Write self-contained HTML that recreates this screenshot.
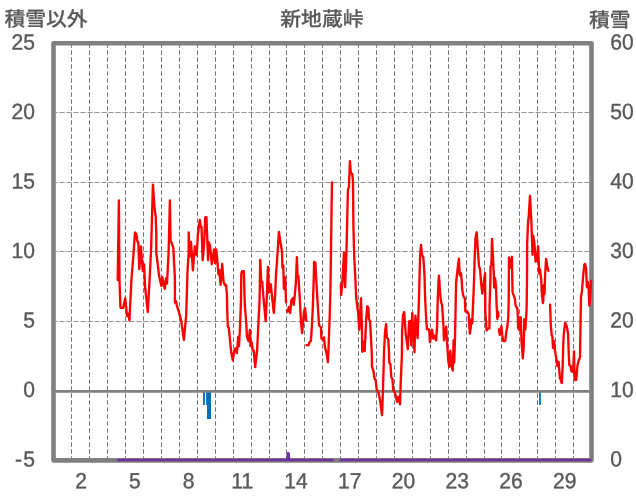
<!DOCTYPE html>
<html lang="ja"><head><meta charset="utf-8"><title>新地蔵峠</title>
<style>html,body{margin:0;padding:0;background:#fff}body{width:636px;height:501px;overflow:hidden}svg{display:block}text{font-family:"Liberation Sans","Noto Sans CJK JP",sans-serif;fill:#595959}.j{text-rendering:geometricPrecision;font-size:20px;font-weight:500;stroke:#595959;stroke-width:.2px}.n{text-rendering:geometricPrecision;font-size:21.8px;stroke:#595959;stroke-width:.4px}</style></head><body>
<svg width="636" height="501" viewBox="0 0 636 501">
<rect width="636" height="501" fill="#fff"/>
<path d="M71.5 43.3V460.4M89.5 43.3V460.4M107.5 43.3V460.4M125.5 43.3V460.4M143.5 43.3V460.4M161.5 43.3V460.4M179.5 43.3V460.4M197.5 43.3V460.4M215.5 43.3V460.4M233.5 43.3V460.4M251.5 43.3V460.4M269.5 43.3V460.4M286.5 43.3V460.4M304.5 43.3V460.4M322.5 43.3V460.4M340.5 43.3V460.4M358.5 43.3V460.4M376.5 43.3V460.4M394.5 43.3V460.4M412.5 43.3V460.4M430.5 43.3V460.4M448.5 43.3V460.4M466.5 43.3V460.4M484.5 43.3V460.4M501.5 43.3V460.4M519.5 43.3V460.4M537.5 43.3V460.4M555.5 43.3V460.4M573.5 43.3V460.4" fill="none" stroke="#727272" stroke-width="1" stroke-dasharray="4.5 2.5"/>
<path d="M52.45 112.5H591.5M52.45 182.5H591.5M52.45 251.5H591.5M52.45 321.5H591.5" fill="none" stroke="#787878" stroke-width="0.8" stroke-dasharray="5.2 1.8"/>
<path d="M203 391h1.9v14h-1.9zM206.1 391h4.9v27.9h-4v-13.9h-.9zM539.1 391h1.8v14h-1.8z" fill="#0070c0"/>
<path d="M53.5 391.4H591.5" stroke="#808080" stroke-width="2.8" fill="none"/>
<rect x="53.5" y="43.3" width="538.0" height="417.05" fill="none" stroke="#808080" stroke-width="4.6" stroke-linejoin="round"/>
<path d="M116.4 461.2L118.2 458.8H286.2L286.5 453.6Q288.2 449.8 289.9 453.6L290.3 458.8H332.9L334.6 461.2zM338.6 461.2L341 458.8H591.6V461.2z" fill="#7030a0"/>
<path d="M117.7 280.0L118.9 200.5L119.5 281.5L120.5 307.8L123.3 307.8L125.2 298.2L127.1 316.0L128.3 313.7L129.4 320.4L131.5 279.0L133.6 252.6L135.0 232.5L136.3 234.0L137.4 241.6L138.3 242.2L139.3 269.2L140.9 246.4L142.8 271.1L144.1 264.3L145.1 287.2L147.8 312.0L149.7 277.7L151.2 246.3L152.9 184.6L154.4 206.3L155.7 216.4L156.3 232.8L156.3 252.6L159.2 276.5L161.4 286.1L162.3 277.1L164.8 288.7L166.1 278.1L167.0 283.6L168.6 252.6L169.9 200.5L170.6 240.3L172.4 245.3L173.3 247.6L174.9 277.7L174.9 302.6L176.2 301.6L176.8 305.7L178.7 311.4L181.2 320.8L183.9 339.9L186.2 315.2L187.5 271.4L188.7 252.6L188.7 232.5L189.5 257.2L191.0 241.9L192.9 270.4L194.8 246.3L196.7 255.3L197.9 234.0L199.8 219.9L200.8 227.0L201.5 226.7L202.7 260.3L204.2 242.8L205.2 217.4L206.4 217.0L207.4 241.5L208.1 260.3L209.0 242.5L210.2 246.8L211.8 264.1L214.1 249.4L215.1 263.2L216.2 249.4L217.4 261.4L218.4 274.2L219.3 270.2L220.6 284.9L222.2 264.0L223.5 281.5L225.0 285.2L226.0 285.0L226.9 294.1L227.3 312.6L227.8 326.4L228.8 327.9L231.3 352.8L232.8 360.2L234.4 350.3L235.7 348.2L236.9 353.1L238.2 336.9L239.0 346.1L240.1 325.2L241.0 300.0L241.3 273.9L242.2 271.2L243.9 271.2L244.5 295.3L244.9 306.3L246.0 318.9L247.0 337.1L248.5 341.1L249.9 330.0L250.5 346.1L251.8 342.5L252.7 350.3L253.7 350.3L254.6 360.4L255.2 367.1L257.1 350.3L258.3 325.2L259.6 300.0L260.2 259.9L261.2 280.9L262.4 282.1L262.4 285.1L263.8 301.4L265.7 321.2L266.9 295.2L267.9 266.9L268.8 292.6L269.8 291.4L270.7 284.2L271.9 295.2L273.8 313.0L275.1 295.2L276.1 272.5L277.0 261.5L278.9 232.0L280.1 240.1L282.0 251.4L282.4 267.8L283.3 265.3L283.9 288.9L285.2 277.3L286.0 302.4" fill="none" stroke="#ff0000" stroke-width="2.35" stroke-linejoin="round" stroke-linecap="round"/>
<path d="M286.9 310.5L287.7 311.7L288.9 306.9L290.2 313.0L291.4 300.2L293.0 298.1L293.7 304.8L294.6 297.0L295.9 282.6L296.9 257.1L297.5 275.4L298.4 276.0L299.6 295.2L300.9 320.3L302.1 333.2L304.0 311.5L305.0 308.1L306.3 320.7" fill="none" stroke="#ff0000" stroke-width="2.35" stroke-linejoin="round" stroke-linecap="round"/>
<path d="M306.5 345.2L308.4 345.4L309.7 342.0L310.9 340.8L311.8 327.6L312.8 307.7L313.8 276.3L314.1 261.9L315.4 262.5L316.4 282.6L317.9 307.7L319.1 325.4L321.0 327.6L321.4 338.3L322.9 339.8L324.1 337.4L324.8 346.4L326.7 354.0L327.9 362.1L328.5 350.0L329.8 313.0L330.4 290.0L331.0 250.0L331.7 200.0L332.0 182.4" fill="none" stroke="#ff0000" stroke-width="2.35" stroke-linejoin="round" stroke-linecap="round"/>
<path d="M340.8 284.6L341.2 294.9L342.4 281.4L344.0 252.6L345.1 287.3L346.1 262.6L346.8 237.7L347.6 202.8L348.0 189.2L348.9 187.7L349.9 161.1L350.8 172.6L352.2 173.9L353.0 181.4L353.4 225.2L354.2 256.3L355.2 275.2L356.2 297.8L358.1 312.6L359.3 329.8L361.0 298.2L361.9 325.2L362.2 351.8L363.5 341.9L364.7 351.2L366.2 318.9L367.3 306.1L368.4 307.6L368.9 318.9L370.0 320.8L371.0 337.7L371.9 356.6L371.9 366.3L373.6 371.4L374.4 378.3L375.7 380.2L376.6 389.0L378.8 394.0L380.3 401.5L382.0 415.2L382.9 392.7L383.6 367.6L384.1 350.3L385.1 331.4L386.1 324.1L386.8 337.1L388.3 339.6L388.9 350.3L389.3 362.6L390.4 363.8L391.4 377.6L392.4 378.9L393.3 390.2L394.9 392.7L396.2 397.8L397.1 402.1L398.3 396.9L400.0 404.3L400.8 380.2L401.9 355.0L402.1 331.4L403.0 315.1L404.2 312.0L405.7 333.8L407.8 349.2L409.1 321.3L410.1 320.9L411.3 345.4L412.2 313.1L414.5 352.3L415.4 315.6L417.6 338.2L418.9 300.2L419.6 275.0L420.1 256.4L421.0 244.9L422.0 255.2L423.3 257.1L424.5 275.3L425.2 300.2L426.4 322.8L427.0 329.4L429.2 329.4L429.9 342.2L432.1 329.8L433.3 338.5L434.6 335.5L436.1 340.4L437.1 326.3L437.7 300.2L438.5 281.3L439.0 275.7L440.0 291.4L440.9 301.4L442.1 305.2L443.4 325.3L444.0 340.4L446.2 326.7L447.2 345.2L448.4 361.5L449.3 366.8L450.3 350.6L451.6 366.5L452.8 370.5L453.6 340.1L454.2 362.8L455.0 338.9L455.5 312.7L456.1 282.6L456.9 275.3L457.9 266.5L458.9 258.7L459.8 275.3L461.0 273.2L461.6 279.1L462.3 290.1L463.5 296.4L464.8 298.3L465.4 311.5L467.3 311.5L468.6 314.0L469.2 322.8L469.8 333.7L470.7 327.8L471.4 319.0L472.2 323.4L473.0 306.4L474.0 281.3L474.5 262.7L475.5 237.6L476.7 232.3L477.8 248.9L479.0 266.5L480.0 269.0L481.3 285.0L482.3 293.7L483.6 284.1L485.1 273.2L485.3 311.4L486.6 330.4L488.5 328.5L489.4 328.5L489.6 305.2L490.4 280.0L490.5 266.5L491.4 265.2L492.0 238.9L492.9 255.2L493.9 276.5L494.1 287.5L495.1 278.2L496.0 286.6L496.6 305.2L497.3 319.0L498.1 311.7L498.5 316.3" fill="none" stroke="#ff0000" stroke-width="2.35" stroke-linejoin="round" stroke-linecap="round"/>
<path d="M498.9 329.5L499.8 334.8L501.4 326.1L502.3 335.2L503.2 341.1L505.2 341.1L506.4 331.4L507.3 327.0L508.3 316.3L508.7 300.0L509.0 257.5L510.5 267.5L512.0 256.8L512.3 280.0L512.6 292.6L513.6 295.1L514.9 298.9L515.5 305.2L517.4 308.9L517.9 317.7L518.1 327.6L519.0 329.7L520.8 317.3L521.5 341.4L522.8 358.4L523.7 347.7L524.3 319.2L525.3 329.7L526.2 317.6L526.7 305.2L527.0 280.3L527.2 242.6L528.1 221.5L528.7 217.1L530.0 195.8L531.2 217.7L531.9 236.3L532.5 254.8L533.1 235.4L534.4 242.6L535.6 261.7L536.9 260.2L538.1 246.1L539.2 273.6L540.0 269.4L541.3 280.3L541.7 291.5L542.9 303.1L543.3 300.3L543.9 285.2L544.5 294.0L545.1 275.2L546.1 258.9L547.3 266.4L548.3 270.8" fill="none" stroke="#ff0000" stroke-width="2.35" stroke-linejoin="round" stroke-linecap="round"/>
<path d="M550.1 304.7L550.8 325.2L551.7 335.2L552.4 336.5L553.0 348.0L554.2 341.3L554.9 350.3L556.8 361.4L557.4 366.0L558.6 361.8L559.9 377.7L561.8 383.0L562.7 365.2L563.2 346.0L563.6 337.7L564.3 328.9L565.2 323.0L566.8 326.4L568.1 334.0L568.7 352.6L569.3 365.2L570.6 365.8L571.2 370.8L572.5 371.7L573.4 365.2L574.0 351.5L574.7 379.9L576.2 380.1L577.5 365.2L578.8 360.1L580.0 357.6L580.3 337.7L580.7 312.6L581.0 297.0L581.9 291.5L583.2 275.2L584.4 264.5L585.1 264.0L586.1 268.9L586.9 287.3L587.8 281.9L588.6 287.7L589.3 305.6L590.3 294.0L591.1 280.6" fill="none" stroke="#ff0000" stroke-width="2.35" stroke-linejoin="round" stroke-linecap="round"/>
<g class="j">
<text transform="translate(4.4 26.1) scale(1.04 1)">積雪以外</text>
<text transform="translate(321.9 26.1) scale(1.04 1)" text-anchor="middle">新地蔵峠</text>
<text transform="translate(630.5 27.1) scale(1.04 1)" text-anchor="end">積雪</text>
</g><g class="n">
<text transform="translate(34.9 49.40) rotate(.03) scale(.967 1)" text-anchor="end">25</text>
<text transform="translate(34.9 118.91) rotate(.03) scale(.967 1)" text-anchor="end">20</text>
<text transform="translate(34.9 188.42) rotate(.03) scale(.967 1)" text-anchor="end">15</text>
<text transform="translate(34.9 257.93) rotate(.03) scale(.967 1)" text-anchor="end">10</text>
<text transform="translate(34.9 327.43) rotate(.03) scale(.967 1)" text-anchor="end">5</text>
<text transform="translate(34.9 396.94) rotate(.03) scale(.967 1)" text-anchor="end">0</text>
<text transform="translate(34.9 466.45) rotate(.03) scale(.967 1)" text-anchor="end">-<tspan dx="1.2">5</tspan></text>
<text transform="translate(610.2 49.40) rotate(.03) scale(.967 1)">60</text>
<text transform="translate(610.2 118.91) rotate(.03) scale(.967 1)">50</text>
<text transform="translate(610.2 188.42) rotate(.03) scale(.967 1)">40</text>
<text transform="translate(610.2 257.93) rotate(.03) scale(.967 1)">30</text>
<text transform="translate(610.2 327.43) rotate(.03) scale(.967 1)">20</text>
<text transform="translate(610.2 396.94) rotate(.03) scale(.967 1)">10</text>
<text transform="translate(610.2 466.45) rotate(.03) scale(.967 1)">0</text>
<text transform="translate(81.0 488.35) rotate(.03) scale(.967 1)" text-anchor="middle">2</text>
<text transform="translate(134.8 488.35) rotate(.03) scale(.967 1)" text-anchor="middle">5</text>
<text transform="translate(188.5 488.35) rotate(.03) scale(.967 1)" text-anchor="middle">8</text>
<text transform="translate(242.3 488.35) rotate(.03) scale(.967 1)" text-anchor="middle">11</text>
<text transform="translate(296.0 488.35) rotate(.03) scale(.967 1)" text-anchor="middle">14</text>
<text transform="translate(349.7 488.35) rotate(.03) scale(.967 1)" text-anchor="middle">17</text>
<text transform="translate(403.5 488.35) rotate(.03) scale(.967 1)" text-anchor="middle">20</text>
<text transform="translate(457.2 488.35) rotate(.03) scale(.967 1)" text-anchor="middle">23</text>
<text transform="translate(511.0 488.35) rotate(.03) scale(.967 1)" text-anchor="middle">26</text>
<text transform="translate(564.7 488.35) rotate(.03) scale(.967 1)" text-anchor="middle">29</text>
</g></svg></body></html>
